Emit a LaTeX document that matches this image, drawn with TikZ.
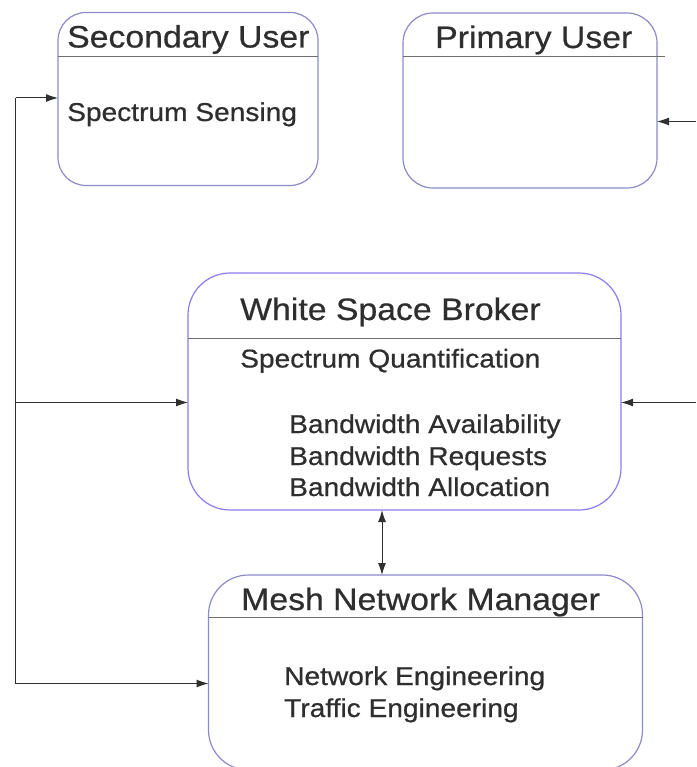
\documentclass[tikz,border=0pt]{standalone}
\usepackage{fontspec}
\setmainfont{Liberation Sans}[FakeStretch=1.09,FakeBold=0.6]
\usetikzlibrary{arrows.meta}
\definecolor{boxline}{HTML}{8C8AC8}
\definecolor{wsbline}{HTML}{8A7BF0}
\definecolor{divline}{HTML}{707070}
\definecolor{txt}{HTML}{2E2E2E}
\definecolor{conn}{HTML}{303030}
\tikzset{
  boxshape/.style={draw=boxline, line width=1.2pt, rounded corners=#1, inner sep=0pt, outer sep=0pt, fill=white},
  divider/.style={draw=divline, line width=1pt},
  titletxt/.style={anchor=base west, inner sep=0pt, text=txt, font=\fontsize{31}{36}\selectfont},
  bodytxt/.style={anchor=base west, inner sep=0pt, text=txt, font=\fontsize{25.8}{32}\selectfont},
  conline/.style={draw=conn, line width=1pt},
  arr/.style={conline, -{Latex[length=12pt,width=8pt]}},
  darr/.style={conline, {Latex[length=12pt,width=8pt]}-{Latex[length=12pt,width=8pt]}}
}
\begin{document}
\begin{tikzpicture}[x=1pt,y=-1pt]
\useasboundingbox (0,0) rectangle (696,767);
% boxes
\node[boxshape=28pt, minimum width=260pt, minimum height=173pt] (su) at (188,99) {};
\node[boxshape=30pt, minimum width=254pt, minimum height=175pt] (pu) at (530,100.5) {};
\node[boxshape=42pt, draw=wsbline, minimum width=433pt, minimum height=237pt] (wsb) at (404.5,391.5) {};
\node[boxshape=40pt, minimum width=434pt, minimum height=195pt] (mnm) at (425.5,672.5) {};
% dividers
\draw[divider] (su.west |- 0,56.5) -- (su.east |- 0,56.5);
\draw[divider] (pu.west |- 0,56.5) -- (665,56.5);
\draw[divider] (wsb.west |- 0,338) -- (wsb.east |- 0,338);
\draw[divider] (mnm.west |- 0,617) -- (mnm.east |- 0,617);
% texts
\node[titletxt] (sut) at (67,47.5) {Secondary User};
\node[bodytxt] (sub) at (67,121) {Spectrum Sensing};
\node[titletxt] (put) at (435,48) {Primary User};
\node[titletxt] (wsbt) at (240,320) {White Space Broker};
\node[bodytxt] (wsb1) at (240,367.5) {Spectrum Quantification};
\node[bodytxt] (wsb2) at (289,433) {Bandwidth Availability};
\node[bodytxt] (wsb3) at (289,465) {Bandwidth Requests};
\node[bodytxt] (wsb4) at (289,496) {Bandwidth Allocation};
\node[titletxt] (mnmt) at (241,610) {Mesh Network Manager};
\node[bodytxt] (mnm1) at (284,685) {Network Engineering};
\node[bodytxt] (mnm2) at (284,717) {Traffic Engineering};
% connectors
\coordinate (ltop) at (15.5,98);
\coordinate (lmid) at (15.5,402.5);
\coordinate (lbot) at (15.5,683.5);
\coordinate (rtop) at (696,121.5);
\coordinate (rmid) at (696,402.5);
\draw[conline] (ltop) -- (lbot);
\draw[arr] (ltop) -- (su.west |- ltop);
\draw[arr] (lmid) -- (wsb.west |- lmid);
\draw[arr] (lbot) -- (mnm.west |- lbot);
\draw[arr] (rtop) -- (pu.east |- rtop);
\draw[arr] (rmid) -- (wsb.east |- rmid);
\draw[darr] (wsb.south -| 382,0) -- (mnm.north -| 382,0);
\end{tikzpicture}
\end{document}
